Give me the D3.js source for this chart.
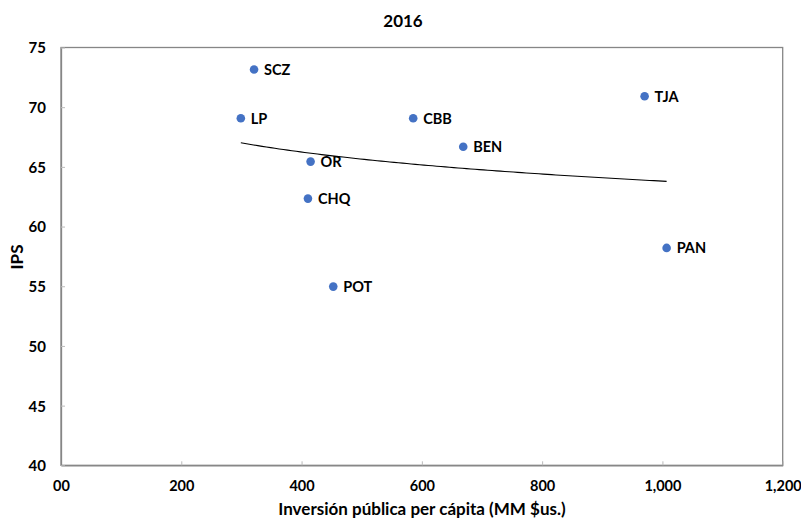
<!DOCTYPE html>
<html><head><meta charset="utf-8">
<script src="https://cdn.jsdelivr.net/npm/d3@7"></script>
<style>body{margin:0;background:#fff}svg{display:block}text{font-family:Lato,"Open Sans",sans-serif;font-weight:bold;fill:#000}</style>
</head><body>
<script>
const regions = ["SCZ","LP","OR","CHQ","CBB","BEN","TJA","PAN","POT"];
const inversion = [321, 299, 415, 410.6, 585.6, 668.8, 970.4, 1007, 452.7];
const ips = [73.16, 69.07, 65.44, 62.34, 69.07, 66.69, 70.91, 58.21, 54.97];
const xTicks = [0,200,400,600,800,1000,1200];
const xTickLabels = ["00","200","400","600","800","1,000","1,200"];
const yTicks = [40,45,50,55,60,65,70,75];
const title = "2016";
const xTitle = "Inversión pública per cápita (MM $us.)";
const yTitle = "IPS";

const W=801,H=518;
const m={l:61,t:47.5,r:782.7,b:465.3};
const svg=d3.select("body").append("svg").attr("width",W).attr("height",H);
const x=d3.scaleLinear().domain([0,1200]).range([m.l,m.r]);
const y=d3.scaleLinear().domain([40,75]).range([m.b,m.t]);

// plot border
svg.append("rect").attr("x",m.l).attr("y",m.t).attr("width",m.r-m.l).attr("height",m.b-m.t)
  .attr("fill","none").attr("stroke","#868686").attr("stroke-width",1.3);

const xa=svg.append("g").attr("transform",`translate(0,${m.b})`)
  .call(d3.axisBottom(x).tickValues(xTicks).tickSizeInner(-4).tickSizeOuter(0)
    .tickFormat((d,i)=>xTickLabels[i]));
xa.select(".domain").attr("stroke","#868686").attr("stroke-width",1.3);
xa.selectAll(".tick line").attr("stroke","#bbb");
xa.selectAll("text").attr("y",26).attr("dy",null).style("font-size","14.5px");

const ya=svg.append("g").attr("transform",`translate(${m.l},0)`)
  .call(d3.axisLeft(y).tickValues(yTicks).tickSizeInner(-4).tickSizeOuter(0).tickPadding(15));
ya.select(".domain").attr("stroke","#868686").attr("stroke-width",1.3);
ya.selectAll(".tick line").attr("stroke","#bbb");
ya.selectAll("text").attr("x",-15).attr("dy","0.36em").style("font-size","15px");

// logarithmic trendline (least squares on ln x)
const lx=inversion.map(Math.log);
const mx=d3.mean(lx), my=d3.mean(ips);
const b=d3.sum(lx.map((v,i)=>(v-mx)*(ips[i]-my)))/d3.sum(lx.map(v=>(v-mx)**2));
const a=my-b*mx;
const [x0,x1]=d3.extent(inversion);
const tr=d3.range(0,101).map(i=>{const xv=x0+(x1-x0)*i/100;return [xv,a+b*Math.log(xv)];});
svg.append("path").datum(tr).attr("fill","none").attr("stroke","#000").attr("stroke-width",1.1)
  .attr("d",d3.line().x(d=>x(d[0])).y(d=>y(d[1])));

const g=svg.append("g");
regions.forEach((r,i)=>{
  g.append("circle").attr("cx",x(inversion[i])).attr("cy",y(ips[i])).attr("r",4.3).attr("fill","#4472C4");
  g.append("text").attr("x",x(inversion[i])+10).attr("y",y(ips[i])+5.5).style("font-size","14.5px").text(r);
});

svg.append("text").attr("x",403).attr("y",26.5).attr("text-anchor","middle").style("font-size","17px").text(title);
svg.append("text").attr("x",422).attr("y",515).attr("text-anchor","middle").style("font-size","17px").text(xTitle);
svg.append("text").attr("transform","translate(23,257) rotate(-90)").attr("text-anchor","middle").style("font-size","17px").text(yTitle);
</script>
</body></html>
